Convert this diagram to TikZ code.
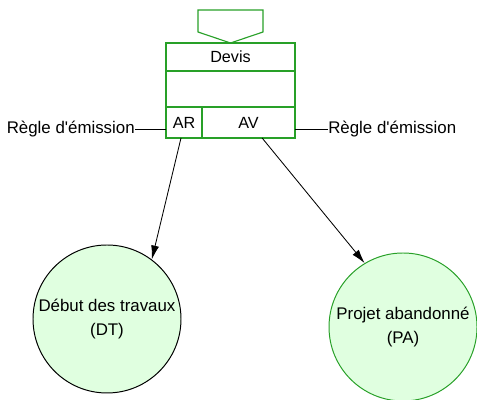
\documentclass[tikz,border=0pt]{standalone}
\usepackage{fontspec}
\setmainfont{Liberation Sans}[Ligatures=TeXOff]
\usepackage{tikz}
\usetikzlibrary{arrows.meta,positioning}
\definecolor{pdgreen}{RGB}{40,160,40}
\definecolor{pdfill}{RGB}{224,255,224}

\begin{document}
\begin{tikzpicture}[font=\fontsize{11.5}{14}\selectfont]
\tikzset{comp/.style={draw=pdgreen,line width=0.8pt,minimum width=3.225cm,inner sep=0pt,outer sep=0pt},
  etat/.style={circle,fill=pdfill,line width=0.7pt,minimum size=3.7cm,align=center,inner sep=0pt,
    font=\fontsize{12}{17}\selectfont},
  lbl/.style={inner sep=0pt,font=\fontsize{12}{14}\selectfont}}
\useasboundingbox (0,0) rectangle (11.925,10);
\node[comp,minimum height=0.7cm] (devis) at (5.7625,8.575) {Devis};
\node[comp,minimum height=0.9cm,below=0pt of devis] (attr) {};
\node[comp,minimum width=0.9cm,minimum height=0.775cm,anchor=north west] (ar) at (attr.south west) {AR};
\node[comp,minimum width=2.325cm,minimum height=0.775cm,right=0pt of ar] (av) {AV};
\draw[pdgreen,line width=0.8pt] (4.95,9.75) -- (6.575,9.75) -- (6.575,9.2) -- (devis.north) -- (4.95,9.2) -- cycle;
\node[etat,draw=black] (dt) at (2.675,2.025) {Début des travaux\\(DT)};
\node[etat,draw=pdgreen] (pa) at (10.075,1.825) {Projet abandonné\\(PA)};
\node[lbl,anchor=east] (regleAR) at (3.375,6.775) {Règle d'émission};
\node[lbl,anchor=west] (regleAV) at (8.2,6.775) {Règle d'émission};
\draw[line width=0.6pt] (regleAR.east) -- (ar.west |- regleAR.east);
\draw[line width=0.6pt] (av.east |- regleAV.west) -- (regleAV.west);
\draw[-{Latex[length=3.5mm,width=2mm]},line width=0.6pt] ([xshift=-0.075cm]ar.south) -- (dt.53);
\draw[-{Latex[length=3.5mm,width=2mm]},line width=0.6pt] ([xshift=0.34cm]av.south) -- (pa.121);
\end{tikzpicture}
\end{document}
